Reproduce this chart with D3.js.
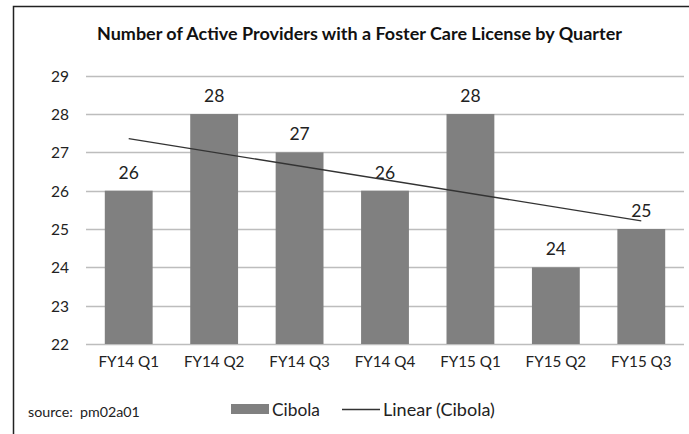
<!DOCTYPE html>
<html><head><meta charset="utf-8">
<script src="https://cdn.jsdelivr.net/npm/d3@7"></script>
<style>body{margin:0;background:#fff;}svg{display:block;}text{font-family:Lato,"Open Sans",sans-serif;}</style>
</head><body>
<svg id="chart" width="689" height="434"></svg>
<script>
const categories = ["FY14 Q1","FY14 Q2","FY14 Q3","FY14 Q4","FY15 Q1","FY15 Q2","FY15 Q3"];
const values = [26,28,27,26,28,24,25];
const yTicks = [22,23,24,25,26,27,28,29];
const seriesName = "Cibola";
const trendName = "Linear (Cibola)";
const titleText = "Number of Active Providers with a Foster Care License by Quarter";
const sourceText = "source:  pm02a01";

(function(){
const svg = d3.select("#chart");
const W = 689, H = 434;
svg.append("rect").attr("x",0).attr("y",0).attr("width",W).attr("height",H).attr("fill","#fff");
svg.append("rect").attr("x",13.5).attr("y",6.5).attr("width",W+20).attr("height",H+20)
  .attr("fill","none").attr("stroke","#222").attr("stroke-width",1.5);

const pLeft = 86, pRight = 684, pTop = 75.7, pBottom = 344;
const x = d3.scaleBand().domain(categories).range([pLeft,pRight]).paddingInner(0.44).paddingOuter(0.22);
const y = d3.scaleLinear().domain([22,29]).range([pBottom,pTop]);

function fitText(sel, target){
  const len = sel.node().getComputedTextLength();
  const fs = parseFloat(sel.attr("font-size"));
  sel.attr("font-size", fs*target/len);
}

// title
const t = svg.append("text").attr("x",(97+622)/2).attr("y",40).attr("text-anchor","middle")
  .attr("font-size",18).attr("font-weight","bold").attr("fill","#111").text(titleText);
fitText(t, 525);

// gridlines
svg.append("g").selectAll("line").data(yTicks).join("line")
  .attr("x1",pLeft).attr("x2",pRight).attr("y1",d=>Math.round(y(d))+0.5).attr("y2",d=>Math.round(y(d))+0.5)
  .attr("stroke","#bdbdbd").attr("stroke-width",1.3);

// y axis labels
const yAxis = d3.axisLeft(y).tickValues(yTicks).tickSize(0).tickPadding(0).tickFormat(d3.format("d"));
const ya = svg.append("g").attr("transform",`translate(${pLeft-17},0)`).call(yAxis);
ya.select(".domain").remove();
ya.selectAll("text").attr("font-size",15.5).attr("fill","#222").attr("font-family","Lato,'Open Sans',sans-serif").attr("dy","0.35em");

// bars
svg.append("g").selectAll("rect").data(values).join("rect")
  .attr("x",(d,i)=>x(categories[i])).attr("width",x.bandwidth())
  .attr("y",d=>y(d)).attr("height",d=>y(22)-y(d)).attr("fill","#808080");

// data labels
svg.append("g").selectAll("text").data(values).join("text")
  .attr("x",(d,i)=>x(categories[i])+x.bandwidth()/2).attr("y",d=>y(d)-12)
  .attr("text-anchor","middle").attr("font-size",17.5).attr("fill","#222").text(d=>d);

// x axis labels
const xAxis = d3.axisBottom(x).tickSize(0).tickPadding(0);
const xa = svg.append("g").attr("transform",`translate(0,${pBottom+11})`).call(xAxis);
xa.select(".domain").remove();
xa.selectAll("text").attr("font-size",15.2).attr("fill","#222").attr("font-family","Lato,'Open Sans',sans-serif").attr("dy","0.8em");

// trendline (least squares)
const n = values.length;
const xs = values.map((d,i)=>i+1);
const mx = d3.mean(xs), my = d3.mean(values);
const slope = d3.sum(xs.map((xv,i)=>(xv-mx)*(values[i]-my))) / d3.sum(xs.map(xv=>(xv-mx)**2));
const icpt = my - slope*mx;
const trend = [1,n].map(k=>({cx:x(categories[k-1])+x.bandwidth()/2, v:icpt+slope*k}));
svg.append("path").datum(trend)
  .attr("d",d3.line().x(d=>d.cx).y(d=>y(d.v)))
  .attr("fill","none").attr("stroke","#333").attr("stroke-width",1.3);

// legend
const lg = svg.append("g");
lg.append("rect").attr("x",231).attr("y",404).attr("width",38).attr("height",10).attr("fill","#808080");
const l1 = lg.append("text").attr("x",272).attr("y",416).attr("font-size",16).attr("fill","#222").text(seriesName);
fitText(l1, 48);
lg.append("line").attr("x1",342).attr("x2",380).attr("y1",409.5).attr("y2",409.5).attr("stroke","#333").attr("stroke-width",1.3);
const l2 = lg.append("text").attr("x",383).attr("y",416).attr("font-size",16).attr("fill","#222").text(trendName);
fitText(l2, 112);

// source
const s = svg.append("text").attr("x",28).attr("y",417).attr("font-size",12).attr("fill","#222")
  .style("white-space","pre").text(sourceText);
fitText(s, 112);
})();
</script>
</body></html>
